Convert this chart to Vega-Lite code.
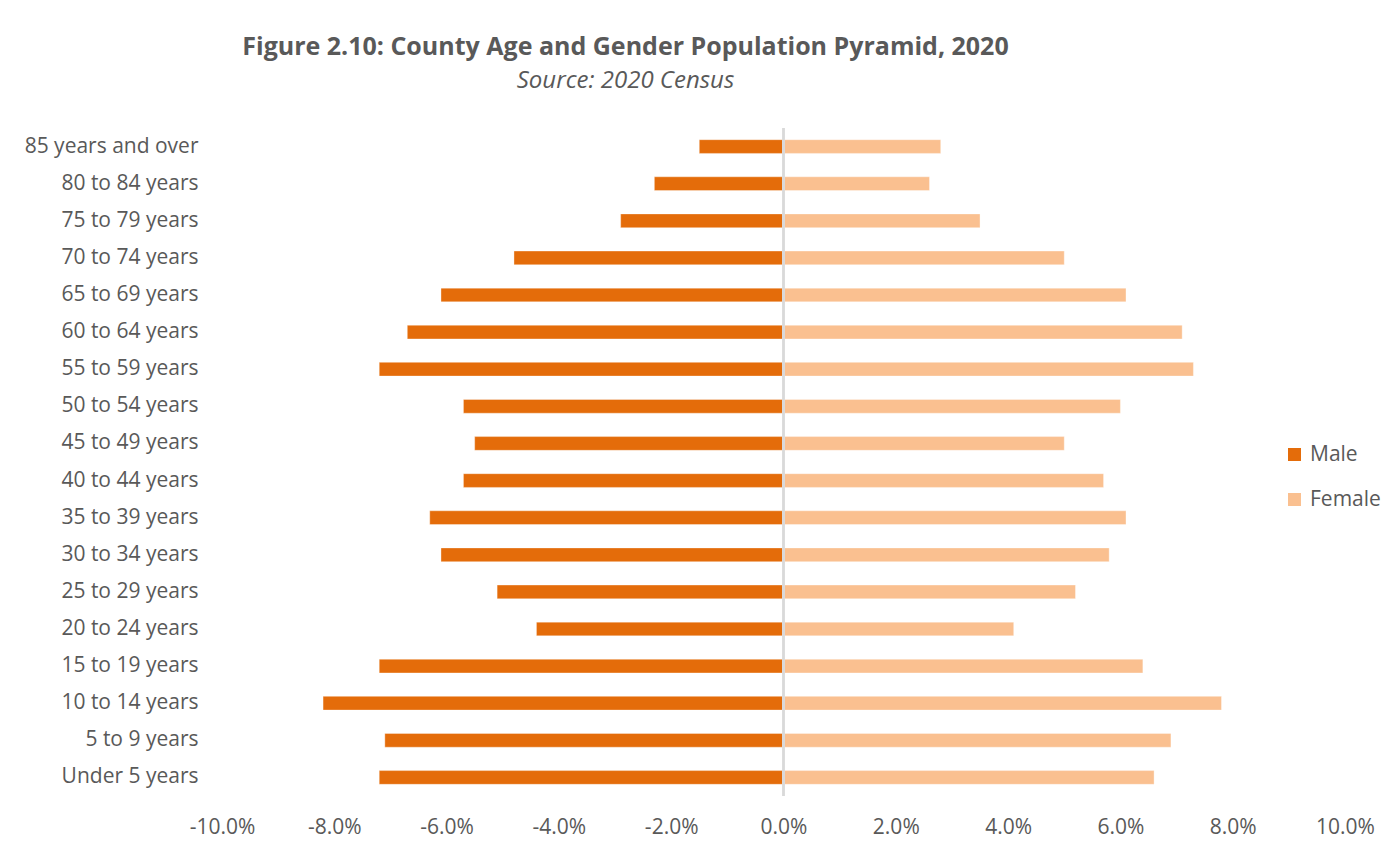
{
  "$schema": "https://vega.github.io/schema/vega-lite/v6.json",
  "width": 1123,
  "height": 668,
  "autosize": {"type": "none"},
  "padding": {"left": 222, "top": 128, "right": 44, "bottom": 57},
  "background": "white",
  "title": {
    "text": "Figure 2.10: County Age and Gender Population Pyramid, 2020",
    "subtitle": "Source: 2020 Census",
    "anchor": "middle",
    "frame": "group",
    "dx": -158,
    "offset": 34,
    "font": "Open Sans",
    "fontSize": 25,
    "fontWeight": "bold",
    "color": "#595959",
    "subtitleFont": "Open Sans",
    "subtitleFontSize": 24,
    "subtitleFontStyle": "italic",
    "subtitleColor": "#595959",
    "subtitlePadding": 9
  },
  "data": {
    "values": [
      {"age": "85 years and over", "sex": "Male", "pct": -0.015},
      {"age": "85 years and over", "sex": "Female", "pct": 0.028},
      {"age": "80 to 84 years", "sex": "Male", "pct": -0.023},
      {"age": "80 to 84 years", "sex": "Female", "pct": 0.026},
      {"age": "75 to 79 years", "sex": "Male", "pct": -0.029},
      {"age": "75 to 79 years", "sex": "Female", "pct": 0.035},
      {"age": "70 to 74 years", "sex": "Male", "pct": -0.048},
      {"age": "70 to 74 years", "sex": "Female", "pct": 0.050},
      {"age": "65 to 69 years", "sex": "Male", "pct": -0.061},
      {"age": "65 to 69 years", "sex": "Female", "pct": 0.061},
      {"age": "60 to 64 years", "sex": "Male", "pct": -0.067},
      {"age": "60 to 64 years", "sex": "Female", "pct": 0.071},
      {"age": "55 to 59 years", "sex": "Male", "pct": -0.072},
      {"age": "55 to 59 years", "sex": "Female", "pct": 0.073},
      {"age": "50 to 54 years", "sex": "Male", "pct": -0.057},
      {"age": "50 to 54 years", "sex": "Female", "pct": 0.060},
      {"age": "45 to 49 years", "sex": "Male", "pct": -0.055},
      {"age": "45 to 49 years", "sex": "Female", "pct": 0.050},
      {"age": "40 to 44 years", "sex": "Male", "pct": -0.057},
      {"age": "40 to 44 years", "sex": "Female", "pct": 0.057},
      {"age": "35 to 39 years", "sex": "Male", "pct": -0.063},
      {"age": "35 to 39 years", "sex": "Female", "pct": 0.061},
      {"age": "30 to 34 years", "sex": "Male", "pct": -0.061},
      {"age": "30 to 34 years", "sex": "Female", "pct": 0.058},
      {"age": "25 to 29 years", "sex": "Male", "pct": -0.051},
      {"age": "25 to 29 years", "sex": "Female", "pct": 0.052},
      {"age": "20 to 24 years", "sex": "Male", "pct": -0.044},
      {"age": "20 to 24 years", "sex": "Female", "pct": 0.041},
      {"age": "15 to 19 years", "sex": "Male", "pct": -0.072},
      {"age": "15 to 19 years", "sex": "Female", "pct": 0.064},
      {"age": "10 to 14 years", "sex": "Male", "pct": -0.082},
      {"age": "10 to 14 years", "sex": "Female", "pct": 0.078},
      {"age": "5 to 9 years", "sex": "Male", "pct": -0.071},
      {"age": "5 to 9 years", "sex": "Female", "pct": 0.069},
      {"age": "Under 5 years", "sex": "Male", "pct": -0.072},
      {"age": "Under 5 years", "sex": "Female", "pct": 0.066}
    ]
  },
  "layer": [
    {
      "mark": {"type": "bar", "stroke": "white", "strokeWidth": 1, "strokeOpacity": 0.35},
      "encoding": {
        "y": {
          "field": "age",
          "type": "nominal",
          "sort": null,
          "scale": {"paddingInner": 0.63, "paddingOuter": 0.315},
          "axis": {
            "title": null,
            "domain": false,
            "ticks": false,
            "labelPadding": 24,
            "labelFont": "Open Sans",
            "labelFontSize": 21,
            "labelColor": "#595959"
          }
        },
        "x": {
          "field": "pct",
          "type": "quantitative",
          "scale": {"domain": [-0.1, 0.1], "nice": false},
          "axis": {
            "title": null,
            "domain": false,
            "ticks": false,
            "grid": false,
            "labelFlush": false,
            "labelOverlap": false,
            "values": [-0.1, -0.08, -0.06, -0.04, -0.02, 0, 0.02, 0.04, 0.06, 0.08, 0.1],
            "labelExpr": "replace(format(datum.value, '.1%'), '−', '-')",
            "labelPadding": 20,
            "labelFont": "Open Sans",
            "labelFontSize": 21,
            "labelColor": "#595959"
          }
        },
        "color": {
          "field": "sex",
          "type": "nominal",
          "scale": {"domain": ["Male", "Female"], "range": ["#E46C0A", "#FAC090"]},
          "legend": {
            "title": null,
            "orient": "none",
            "legendX": 1062,
            "legendY": 316,
            "symbolType": "square",
            "symbolSize": 169,
            "symbolStrokeWidth": 0,
            "labelFont": "Open Sans",
            "labelFontSize": 21,
            "labelColor": "#595959",
            "labelOffset": 5,
            "rowPadding": 23
          }
        }
      }
    },
    {
      "mark": {"type": "rule", "color": "#D9D9D9", "strokeWidth": 1.5},
      "encoding": {"x": {"datum": 0}}
    }
  ],
  "config": {"view": {"stroke": null}}
}
